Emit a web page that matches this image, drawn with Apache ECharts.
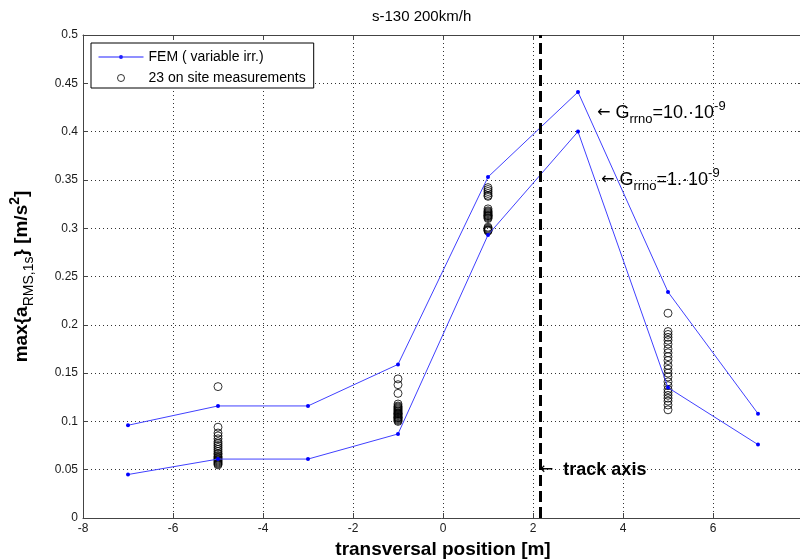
<!DOCTYPE html>
<html>
<head>
<meta charset="utf-8">
<script src="https://cdn.jsdelivr.net/npm/echarts@6/dist/echarts.min.js"></script>
<style>
  html, body { margin: 0; padding: 0; background: #fff; }
  #chart { width: 800px; height: 560px; }
</style>
</head>
<body>
<div id="chart"></div>
<script>
// FEM results, two irregularity levels
const xPos = [-7, -5, -3, -1, 1, 3, 5, 7];
const femHigh = [0.096, 0.116, 0.116, 0.159, 0.353, 0.441, 0.234, 0.108];
const femLow = [0.045, 0.061, 0.061, 0.087, 0.293, 0.400, 0.135, 0.076];

// on site measurements (23 per position)
const siteX = [-5, -1, 1, 5];
const siteAtM5 = [0.136, 0.094, 0.088, 0.085, 0.082, 0.079, 0.077, 0.075, 0.073, 0.071, 0.069, 0.067,
                  0.066, 0.064, 0.063, 0.062, 0.061, 0.060, 0.059, 0.058, 0.057, 0.056, 0.055];
const siteAtM1 = [0.144, 0.138, 0.129, 0.118, 0.116, 0.115, 0.114, 0.113, 0.112, 0.111, 0.110, 0.109,
                  0.108, 0.108, 0.107, 0.106, 0.105, 0.104, 0.104, 0.103, 0.102, 0.101, 0.100];
const siteAtP1 = [0.342, 0.340, 0.338, 0.336, 0.334, 0.333, 0.320, 0.318, 0.317, 0.316, 0.315, 0.314,
                  0.313, 0.313, 0.312, 0.311, 0.310, 0.301, 0.300, 0.299, 0.298, 0.298, 0.297];
const siteAtP5 = [0.212, 0.193, 0.190, 0.187, 0.184, 0.180, 0.175, 0.171, 0.167, 0.163, 0.158, 0.154,
                  0.150, 0.146, 0.141, 0.137, 0.133, 0.130, 0.127, 0.124, 0.121, 0.117, 0.112];

const trackX = 2.15;
const xTicks = { min: -8, max: 8, step: 2 };
const yTicks = { min: 0, max: 0.5, step: 0.05 };

const siteAll = [siteAtM5, siteAtM1, siteAtP1, siteAtP5];
const sitePoints = [];
siteAll.forEach((vals, i) => vals.forEach(v => sitePoints.push([siteX[i], v])));

const femName = 'FEM ( variable irr.)';
const siteName = '23 on site measurements';
const font = 'Liberation Sans, Arial, sans-serif';

const annoRich = {
  a: { fontFamily: 'DejaVu Sans', fontSize: 16, color: '#000', verticalAlign: 'middle' },
  b: { fontFamily: font, fontSize: 18, color: '#000', verticalAlign: 'middle' },
  t: { fontFamily: font, fontSize: 18, fontWeight: 'bold', color: '#000', verticalAlign: 'middle' },
  s: { fontFamily: font, fontSize: 13, color: '#000', padding: [14, 0, 0, 0], verticalAlign: 'middle' },
  p: { fontFamily: font, fontSize: 13, color: '#000', padding: [0, 0, 12, 0], verticalAlign: 'middle' }
};

// legend icons: thin line with a dot, and a hollow ring
const femIcon = 'path://M0,0 M45,10 M0,4.5 L45,4.5 L45,5.5 L0,5.5 Z M24.5,5 A2,2 0 1 1 20.5,5 A2,2 0 1 1 24.5,5 Z';
const siteIcon = 'path://M0,0 M45,10 M26,5 A3.5,3.5 0 1 1 19,5 A3.5,3.5 0 1 1 26,5';

const chart = echarts.init(document.getElementById('chart'));
chart.setOption({
  animation: false,
  title: {
    text: 's-130 200km/h',
    left: 367, top: 4,
    textStyle: { fontFamily: font, fontSize: 15, fontWeight: 'normal', color: '#000' }
  },
  grid: { left: 83, top: 35, right: -3, bottom: 42, containLabel: false, outerBoundsMode: 'none' },
  legend: {
    left: 91, top: 43,
    orient: 'vertical',
    data: [
      { name: femName, icon: femIcon, itemStyle: { color: '#2020ff' } },
      { name: siteName, icon: siteIcon, itemStyle: { color: 'rgba(0,0,0,0)', borderColor: '#000', borderWidth: 1 } }
    ],
    backgroundColor: '#fff',
    borderColor: '#000',
    borderWidth: 1,
    borderRadius: 0,
    padding: [7, 8, 3, 7],
    itemWidth: 45, itemHeight: 10, itemGap: 7, itemTextGap: 5,
    textStyle: { fontFamily: font, fontSize: 14, color: '#000' }
  },
  xAxis: [{
    type: 'value', min: xTicks.min, max: xTicks.max, interval: xTicks.step,
    name: 'transversal position [m]', nameLocation: 'middle', nameGap: 21,
    nameTextStyle: { fontFamily: font, fontSize: 19, fontWeight: 'bold', color: '#000' },
    axisLine: { onZero: false, lineStyle: { color: '#444' } },
    axisTick: { inside: true, length: 5, lineStyle: { color: '#444' } },
    axisLabel: { fontFamily: font, fontSize: 12, color: '#1a1a1a', margin: 5 },
    splitLine: { show: true, lineStyle: { type: [1, 3], color: '#333' } }
  }, {
    type: 'value', position: 'top', min: xTicks.min, max: xTicks.max, interval: xTicks.step,
    axisLine: { onZero: false, lineStyle: { color: '#444' } },
    axisTick: { inside: true, length: 5, lineStyle: { color: '#444' } },
    axisLabel: { show: false }, splitLine: { show: false }
  }],
  yAxis: [{
    type: 'value', min: yTicks.min, max: yTicks.max, interval: yTicks.step,
    name: '{b|max{a}{s|RMS,1s}} [m/s{p|2}]', nameLocation: 'middle', nameGap: 47,
    nameTextStyle: {
      fontFamily: font, fontSize: 19, fontWeight: 'bold', color: '#000',
      rich: {
        b: { fontFamily: font, fontSize: 19, fontWeight: 'bold', color: '#000', verticalAlign: 'middle' },
        s: { fontFamily: font, fontSize: 14, fontWeight: 'normal', color: '#000', padding: [15, 0, 0, 0], verticalAlign: 'middle' },
        p: { fontFamily: font, fontSize: 14, fontWeight: 'bold', color: '#000', padding: [0, 0, 12, 0], verticalAlign: 'middle' }
      }
    },
    axisLine: { show: true, onZero: false, lineStyle: { color: '#444' } },
    axisTick: { show: true, inside: true, length: 5, lineStyle: { color: '#444' } },
    axisLabel: { fontFamily: font, fontSize: 12, color: '#1a1a1a', margin: 5 },
    splitLine: { show: true, lineStyle: { type: [1, 3], color: '#333' } }
  }, {
    type: 'value', position: 'right', min: yTicks.min, max: yTicks.max, interval: yTicks.step,
    axisLine: { show: true, onZero: false, lineStyle: { color: '#444' } },
    axisTick: { show: true, inside: true, length: 5, lineStyle: { color: '#444' } },
    axisLabel: { show: false }, splitLine: { show: false }
  }],
  series: [
    {
      name: femName, type: 'line',
      data: xPos.map((x, i) => [x, femHigh[i]]),
      symbol: 'circle', symbolSize: 4,
      itemStyle: { color: '#0000ff' },
      lineStyle: { color: '#4040ff', width: 1 },
      markPoint: {
        symbol: 'circle', symbolSize: 0,
        label: { show: true, position: 'right', distance: 0, formatter: '{a|\u2190 }{b|G}{s|rrno}{b|=10.\u00b710}{p|-9}', rich: annoRich },
        data: [{ coord: [3.42, 0.4195] }]
      },
      markLine: {
        silent: true, symbol: 'none',
        lineStyle: { color: '#000', type: [11, 5], width: 3 },
        label: { show: false },
        data: [{ xAxis: trackX }]
      }
    },
    {
      name: femName, type: 'line',
      data: xPos.map((x, i) => [x, femLow[i]]),
      symbol: 'circle', symbolSize: 4,
      itemStyle: { color: '#0000ff' },
      lineStyle: { color: '#4040ff', width: 1 },
      markPoint: {
        symbol: 'circle', symbolSize: 0,
        label: { show: true, position: 'right', distance: 0, formatter: '{a|\u2190 }{b|G}{s|rrno}{b|=1.\u00b710}{p|-9}', rich: annoRich },
        data: [{ coord: [3.51, 0.35] }]
      }
    },
    {
      name: siteName, type: 'scatter',
      data: sitePoints,
      symbol: 'circle', symbolSize: 8,
      itemStyle: { color: 'rgba(0,0,0,0)', borderColor: '#000', borderWidth: 1 },
      z: 1,
      markPoint: {
        symbol: 'circle', symbolSize: 0,
        label: { show: true, position: 'right', distance: 0, formatter: '{a|\u2190  }{t|track axis}', rich: annoRich },
        data: [{ coord: [trackX, 0.05] }]
      }
    }
  ]
});
</script>
</body>
</html>
